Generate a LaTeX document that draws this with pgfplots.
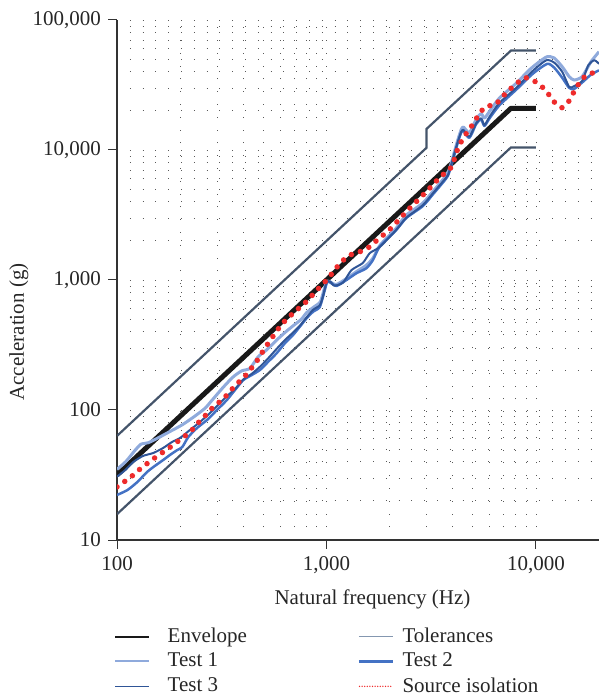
\documentclass[border=0pt]{standalone}
\usepackage{fontspec}
\setmainfont{Liberation Serif}
\usepackage{pgfplots}
\pgfplotsset{compat=1.18}
\definecolor{tolc}{HTML}{44546A}
\definecolor{tollg}{HTML}{8497B0}
\definecolor{t1c}{HTML}{8FAADC}
\definecolor{t2c}{HTML}{4472C4}
\definecolor{t3c}{HTML}{2F5597}
\definecolor{redc}{HTML}{EE2B2B}
\begin{document}
\fontsize{21}{25}\selectfont
\begin{tikzpicture}
\useasboundingbox (-117pt,-157pt) rectangle (482pt,540pt);
\begin{axis}[
  at={(0pt,0pt)}, anchor=south west,
  scale only axis, width=482pt, height=520pt,
  xmode=log, ymode=log,
  xmin=100, xmax=20000, ymin=10, ymax=100000,
  axis x line*=bottom, axis y line*=left,
  axis line style={black!80, line width=1.2pt},
  xtick={100,1000,10000}, xticklabels={100,{1,000},{10,000}},
  ytick={10,100,1000,10000,100000}, yticklabels={10,100,{1,000},{10,000},{100,000}},
  minor xtick={200,300,400,500,600,700,800,900,2000,3000,4000,5000,6000,7000,8000,9000,20000},
  minor ytick={20,30,40,50,60,70,80,90,200,300,400,500,600,700,800,900,2000,3000,4000,5000,6000,7000,8000,9000,20000,30000,40000,50000,60000,70000,80000,90000},
  tick align=outside, major tick length=9pt, minor tick length=0pt,
  tick style={black!80, line width=1pt},
  grid=both,
  major grid style={black!65, line width=0.8pt, dash pattern=on 0.8pt off 12pt},
  minor grid style={black!65, line width=0.8pt, dash pattern=on 0.8pt off 12pt},
  tick label style={font=\fontsize{21}{25}\selectfont, text=black!85},
  label style={font=\fontsize{21}{25}\selectfont, text=black!85},
  xlabel={Natural frequency (Hz)}, ylabel={Acceleration (g)},
  xlabel style={at={(ticklabel cs:0.53,2pt)}},
  ylabel style={at={(ticklabel cs:0.4,-10pt)}},
  legend columns=2,
  legend cell align=left,
  legend style={draw=none, fill=none, at={(axis description cs:0,0)}, anchor=north west,
    xshift=-6pt, yshift=-84pt, font=\fontsize{21}{25}\selectfont, text=black!85,
    nodes={inner sep=1.5pt}, row sep=4.5pt,
    /tikz/column 1/.style={column sep=16pt},
    /tikz/column 2/.style={column sep=109pt},
    /tikz/column 3/.style={column sep=7pt}},
]
% Envelope
\addplot[black!90, line width=5pt, line join=round,
  legend image code/.code={\draw[black!90,line width=2pt] (0pt,0pt)--(34pt,0pt);}]
  coordinates {(100,31.6) (7600,20935) (10000,20935)};
\addlegendentry{Envelope}
% Tolerances
\addplot[tolc, line width=2.2pt, line join=miter,
  legend image code/.code={\draw[tollg,line width=1.5pt] (0pt,0pt)--(34pt,0pt);}]
  coordinates {(100,63.2) (3000,10384) (3000,14500) (7600,58200) (10000,58200)};
\addlegendentry{Tolerances}
\addplot[tolc, line width=2.2pt, forget plot]
  coordinates {(100,15.8) (7600,10470) (10000,10470)};
% Test 1
\addplot[t1c, line width=3pt, smooth, tension=0.4, line join=round,
  legend image code/.code={\draw[t1c,line width=2pt] (0pt,0pt)--(34pt,0pt);}]
  coordinates {(100,35) (110,40) (122,49) (130,54.5) (141,56) (157,61) (175,67)
  (205,77) (236,90) (263,103) (278,114) (322,150) (359,180) (394,200) (431,209)
  (472,257) (518,290) (578,345) (640,400) (700,450) (760,500) (803,560) (870,620)
  (935,680) (975,850) (1005,980) (1050,960) (1110,920) (1240,1020) (1390,1160)
  (1550,1300) (1670,1480) (1800,1850) (2150,2500) (2400,3150) (2880,3900)
  (3220,4800) (3590,5900) (3800,6700) (3940,7900) (4080,9700) (4240,12000)
  (4400,14400) (4510,15000) (4810,13600) (5180,17200) (5470,19000) (5680,17600)
  (6000,19800) (6680,25000) (8035,32500) (9290,41250) (10380,47760) (11320,52240)
  (12220,51030) (13340,43750) (14420,36650) (15210,34530) (16600,36650)
  (18320,47760) (20000,57000)};
\addlegendentry{Test 1}
% Test 2
\addplot[t2c, line width=2.5pt, smooth, tension=0.4, line join=round,
  legend image code/.code={\draw[t2c,line width=2.5pt] (0pt,0pt)--(34pt,0pt);}]
  coordinates {(100,22.2) (112,24.2) (125,27.9) (139,33.3) (149,36.4) (166,41.2)
  (179,45.1) (194,49.2) (205,51.9) (219,62) (241,72.7) (269,83.8) (300,100)
  (334,119) (366,142.6) (401,170) (440,186) (481,203) (527,235) (578,273)
  (633,326) (693,378) (746,437) (803,507) (863,570) (929,620) (982,838)
  (1010,970) (1056,944) (1116,899) (1245,1000) (1390,1127) (1550,1231)
  (1667,1425) (1794,1803) (2154,2425) (2404,3000) (2884,3700) (3220,4550)
  (3590,5600) (3794,6300) (3936,7500) (4083,9200) (4236,11400) (4395,13600)
  (4508,14000) (4812,12400) (5180,15800) (5470,17200) (5675,15300) (6000,17500)
  (6680,22000) (8035,29000) (9640,38500) (11320,46000) (12220,43000)
  (13340,36000) (14420,30000) (15210,29500) (16600,33000) (18320,38000)
  (20000,41000)};
\addlegendentry{Test 2}
% Test 3
\addplot[t3c, line width=2pt, smooth, tension=0.4, line join=round,
  legend image code/.code={\draw[t3c,line width=1.2pt] (0pt,0pt)--(34pt,0pt);}]
  coordinates {(100,30.7) (109.5,34.5) (119.6,39.8) (133,44.3) (149,46.7)
  (166,51) (183,56.7) (200,61) (223,70.2) (249,80.9) (278,94.8) (310,113)
  (335,128) (366,145) (401,172) (440,190) (481,215) (527,250) (578,295)
  (633,345) (693,395) (746,445) (803,515) (863,590) (930,640) (965,760)
  (1000,960) (1040,975) (1090,905) (1200,955) (1315,1190) (1490,1350)
  (1610,1610) (1800,1800) (2150,2420) (2400,3000) (2880,3760) (3220,4640)
  (3590,5700) (3800,6400) (3940,7670) (4080,9420) (4240,11580) (4400,13830)
  (4510,14260) (4810,12650) (5180,16050) (5470,17540) (5680,15570) (6000,18000)
  (6680,23000) (8035,30000) (9640,40500) (11200,49000) (12220,47000)
  (13340,40000) (14420,30500) (15200,31000) (16600,34000) (17800,45000)
  (19000,49000) (20000,46000)};
\addlegendentry{Test 3}
% Source isolation
\addplot[redc, line width=5.5pt, line cap=round, dash pattern=on 0pt off 9.5pt, smooth, tension=0.4,
  legend image code/.code={\draw[redc,line width=1.5pt,line cap=round,dash pattern=on 0pt off 2.6pt] (0.75pt,0pt)--(34pt,0pt);}]
  coordinates {(100,25.6) (109.5,28.4) (119.6,31.6) (130.5,35.8) (142.5,39.8)
  (155.5,44.2) (171.7,49.2) (188,54.7) (205,61) (223.5,67.7) (241,78) (260,88.3)
  (285,103.6) (304,113) (331,128) (358,147.6) (386,167) (417,189) (446,218)
  (476,251) (504,294) (537,340) (574,398) (614,459) (662,519) (722,588)
  (789,665) (849,753) (912,853) (989,977) (1064,1125) (1140,1297) (1231,1469)
  (1349,1604) (1494,1680) (1644,1849) (1779,2094) (1944,2328) (2100,2649)
  (2276,3036) (2447,3454) (2655,3934) (2866,4447) (3105,5070) (3350,5778)
  (3630,6535) (3954,7400) (4097,8730) (4252,10360) (4471,12160) (4745,14060)
  (5085,16400) (5370,19150) (5820,21780) (6353,22080) (6839,25120) (7380,28580)
  (8054,32210) (8790,35980) (9638,34530) (10600,31050) (11400,27290)
  (12190,23540) (13300,21150) (14420,23950) (15170,27930) (16070,32580)
  (17420,37760) (18970,39360) (20000,40000)};
\addlegendentry{Source isolation}
\end{axis}
\end{tikzpicture}
\end{document}
